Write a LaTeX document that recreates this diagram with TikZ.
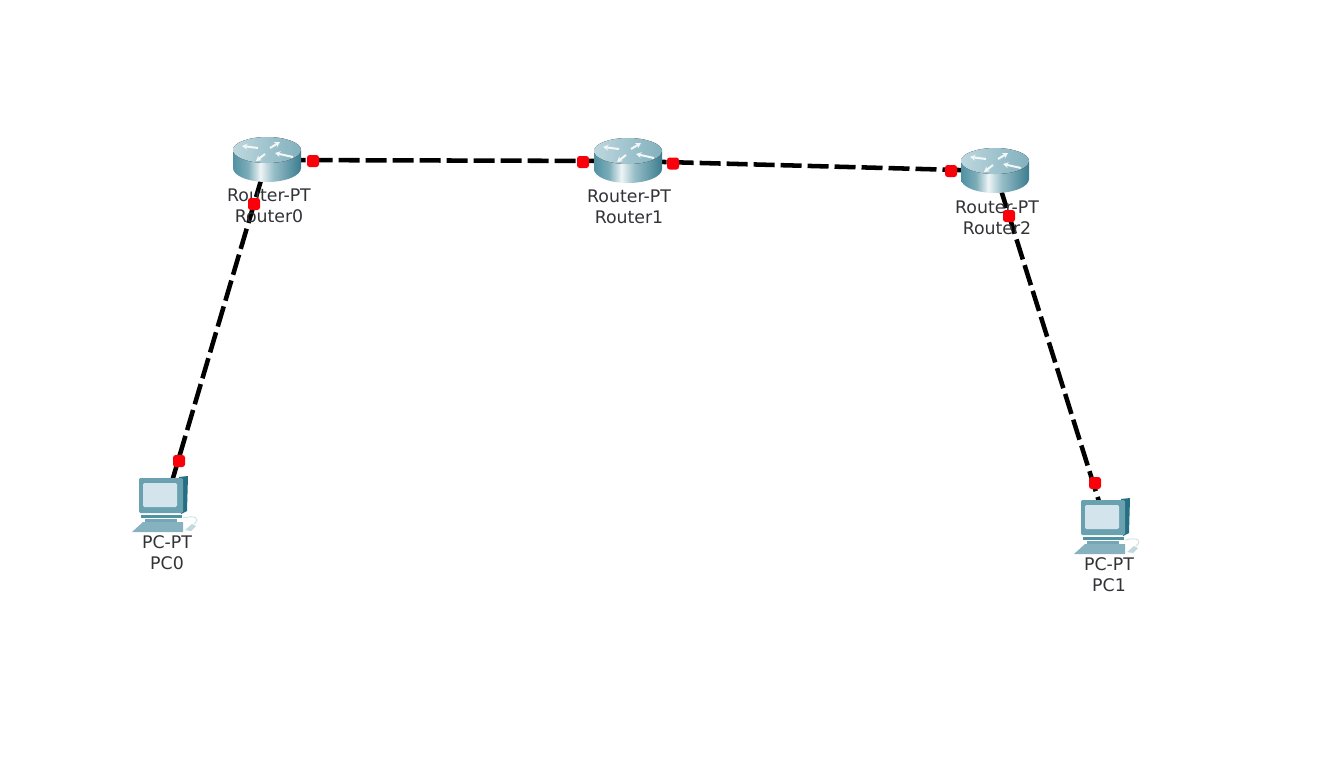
\documentclass[tikz,border=0pt]{standalone}
\usepackage{fontspec}
\setmainfont{DejaVu Sans}
\usepackage{xcolor}
\usetikzlibrary{calc,positioning,arrows.meta}
\definecolor{portc}{RGB}{250,0,10}
\definecolor{labelc}{RGB}{50,50,55}
\definecolor{tealc}{RGB}{80,145,162}
\definecolor{darkc}{RGB}{38,110,130}
\definecolor{screenc}{RGB}{212,228,236}
\definecolor{topc}{RGB}{146,188,200}
\pgfdeclarehorizontalshading{routerside}{100bp}{
  color(0bp)=(tealc); color(25bp)=(tealc); color(36bp)=(tealc!75); color(45bp)=(white!90!tealc);
  color(55bp)=(tealc!60); color(75bp)=(darkc!90); color(100bp)=(darkc!90)}
\tikzset{
  spot/.style={inner sep=0pt,minimum size=2pt},
  link/.style={line width=3.4pt,black,dash pattern=on 15.75pt off 4.5pt,dash phase=8.25pt},
  port/.style={rectangle,rounded corners=2pt,fill=portc,minimum size=9pt,inner sep=0pt},
  devlabel/.style={font=\fontsize{13}{16}\selectfont,text=labelc,align=center,inner sep=0pt},
  arrowmark/.style={white!88!topc,line width=1.5pt,{Stealth[length=4pt,width=4.5pt]}-},
  routerpic/.pic={
    \path[shading=routerside] (-34,-10) -- (-34,8) arc[start angle=180,end angle=0,x radius=34,y radius=14]
      -- (34,-10) -- cycle;
    \fill[left color=topc!60!white,right color=topc!85!darkc] (0,-10) ellipse[x radius=34,y radius=13];
    \draw[arrowmark] (-25,-14) -- (-9,-12);
    \draw[arrowmark] (13,-18) -- (3,-12);
    \draw[arrowmark] (8,-7) -- (26,-3);
    \draw[arrowmark] (-11,1) -- (-2,-6);
  },
  pcpic/.pic={
    % monitor and stand
    \fill[darkc] (14,-28) -- (23,-29) -- (22,6) -- (16,9) -- cycle;
    \fill[tealc!85,rounded corners=1pt] (-26,-27) -- (18,-27) -- (18,8) -- (-26,8) -- cycle;
    \fill[screenc,rounded corners=1pt] (-22,-22) rectangle (12,2);
    \fill[tealc] (-24,10) -- (17,10) -- (17,13) -- (-24,13) -- cycle;
    \fill[tealc!80] (-20,14) rectangle (12,17);
    % keyboard and mouse
    \fill[tealc!70] (-33,27) -- (-22,17) -- (18,17) -- (18,27) -- cycle;
    \fill[tealc!35] (20,25) -- (27,19) -- (31,21) -- (26,26) -- cycle;
    \draw[tealc!30,line width=0.6pt] (18,13) .. controls (30,10) and (36,13) .. (29,19);
  },
}
\begin{document}
\begin{tikzpicture}[x=0.75pt,y=-0.75pt]
  \useasboundingbox (0,0) rectangle (1324,772);
  \node[spot](Router0) at (267,160){}; \node[spot](Router1) at (628,161){};
  \node[spot](Router2) at (995,171){};
  \node[spot](PC0) at (165,505){}; \node[spot](PC1) at (1107,527){};
  \draw[link] (Router0)--(Router1); \draw[link] (Router1)--(Router2);
  \draw[link] (Router0)--(PC0); \draw[link] (Router2)--(PC1);
  \foreach \dev in {Router0,Router1,Router2} \pic at (\dev) {routerpic};
  \foreach \dev in {PC0,PC1} \pic at (\dev) {pcpic};
  \node[devlabel](lab0) at (269,205.5){Router-PT\\Router0};
  \node[devlabel](lab1) at (629,206.5){Router-PT\\Router1};
  \node[devlabel](lab2) at (997,217.5){Router-PT\\Router2};
  \node[devlabel](lab3) at (167,552.5){PC-PT\\PC0};
  \node[devlabel](lab4) at (1109,574.5){PC-PT\\PC1};
  \node[port](p0) at (313,161){}; \node[port](p1) at (583,162){};
  \node[port](p2) at (673,163.5){}; \node[port](p3) at (951,171){};
  \node[port](p4) at (254,204){}; \node[port](p5) at (179,461){};
  \node[port](p6) at (1009,216){}; \node[port](p7) at (1095,483){};
\end{tikzpicture}
\end{document}
